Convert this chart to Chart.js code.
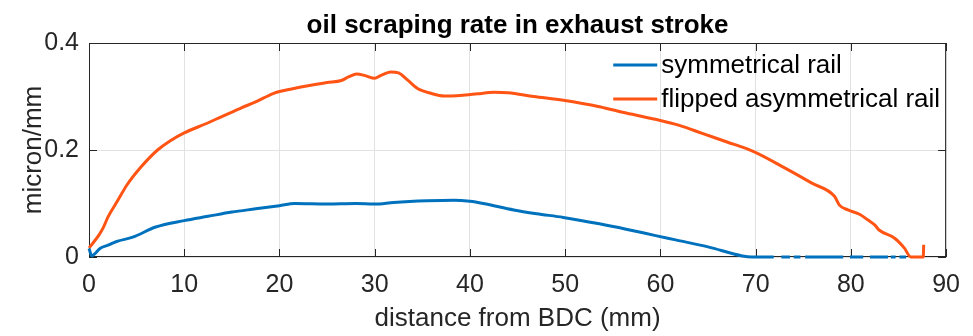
<!DOCTYPE html>
<html>
<head>
<meta charset="utf-8">
<script src="https://cdn.jsdelivr.net/npm/chart.js@4.4.1/dist/chart.umd.min.js"></script>
<style>
    html, body { margin: 0; padding: 0; background: #fff; }
</style>
</head>
<body>
<canvas id="ourChart" width="973" height="336"></canvas>
<script>
// values (x in mm, y in micron/mm)
const symX = [0, 0.3, 0.6, 1.15, 2, 2.9, 4.6, 7, 10, 12.5, 15, 17.5, 20, 21.6, 25, 28, 30, 32, 35.5, 38.3,
    40, 41.4, 44.6, 47, 49.8, 53.6, 56.4, 59.5, 61.6, 65, 68.6, 69.6, 71.9, 72.3, 72.7, 73.6, 73.8, 74.0, 74.7, 74.95,
    75.2, 79.2, 79.5, 79.9, 81.3, 81.6, 82.0, 83.9, 84.05, 84.2, 84.7, 84.9, 85.1, 85.8];
const symY = [0.016, 0.002, 0.006, 0.016, 0.022, 0.029, 0.037, 0.056, 0.068, 0.076, 0.084, 0.090, 0.096, 0.100, 0.099, 0.100, 0.099, 0.102, 0.105, 0.106,
    0.104, 0.100, 0.088, 0.081, 0.074, 0.062, 0.052, 0.040, 0.032, 0.019, 0.002, 0, 0, null, 0, 0, null, 0, 0, null,
    0, 0, null, 0, 0, null, 0, 0, null, 0, 0, null, 0, 0];

const flipX = [0, 0.5, 1, 1.5, 2, 3, 4, 5.5, 7.2, 8.5, 10, 12.4, 14, 15.9, 17.5, 19.4, 21, 23, 25, 26.5,
    27.3, 28.1, 29, 30, 30.6, 31.7, 32.5, 33.5, 34.5, 35.9, 37.3, 39, 40.8, 42.5, 44, 46.7, 49.8, 53.6, 56.4, 59.8,
    62, 64.4, 67, 69.8, 73.1, 75.9, 78.3, 78.8, 79.7, 81, 81.8, 82.5, 83, 84.6, 85.6, 86.3, 87.6, 87.65];
const flipY = [0.017, 0.028, 0.040, 0.055, 0.075, 0.105, 0.135, 0.169, 0.200, 0.217, 0.232, 0.250, 0.263, 0.278, 0.290, 0.306, 0.313, 0.320, 0.326, 0.330,
    0.337, 0.342, 0.339, 0.334, 0.339, 0.346, 0.344, 0.330, 0.315, 0.306, 0.301, 0.302, 0.305, 0.308, 0.307, 0.300, 0.293, 0.281, 0.269, 0.256,
    0.246, 0.231, 0.215, 0.197, 0.166, 0.138, 0.113, 0.097, 0.088, 0.079, 0.069, 0.060, 0.050, 0.035, 0.017, 0, 0, 0.023];

const seriesNames = ['symmetrical rail', 'flipped asymmetrical rail'];
const xTicks = [0, 10, 20, 30, 40, 50, 60, 70, 80, 90];
const yTicks = [0, 0.2, 0.4];
const yTickLabels = ['0', '0.2', '0.4'];

const titleText = 'oil scraping rate in exhaust stroke';
const fontFamily = '"Liberation Sans", Arial, Helvetica, sans-serif';
const axisColor = '#262626';

function toPoints(xs, ys) {
    return xs.map((x, i) => ({ x: x, y: ys[i] }));
}

// box round the axes + ticks pointing inwards, like matlab
const boxPlugin = {
    id: 'boxPlugin',
    beforeDatasetsDraw(chart) {
        const ctx = chart.ctx;
        const a = chart.chartArea;
        const xs = chart.scales.x, ys = chart.scales.y;
        const len = 8;
        ctx.save();
        ctx.strokeStyle = axisColor;
        ctx.lineWidth = 1;
        ctx.strokeRect(a.left + 0.5, a.top + 0.5, a.right - a.left - 1, a.bottom - a.top - 1);
        ctx.beginPath();
        xTicks.forEach(v => {
            const px = Math.round(xs.getPixelForValue(v)) + 0.5;
            ctx.moveTo(px, a.bottom); ctx.lineTo(px, a.bottom - len);
            ctx.moveTo(px, a.top); ctx.lineTo(px, a.top + len);
        });
        yTicks.forEach(v => {
            const py = Math.round(ys.getPixelForValue(v)) + 0.5;
            ctx.moveTo(a.left, py); ctx.lineTo(a.left + len, py);
            ctx.moveTo(a.right, py); ctx.lineTo(a.right - len, py);
        });
        ctx.stroke();
        ctx.restore();
    },
    afterDraw(chart) {
        const ctx = chart.ctx;
        const a = chart.chartArea;
        ctx.save();
        // title
        ctx.font = 'bold 26px ' + fontFamily;
        ctx.fillStyle = '#000';
        ctx.textAlign = 'center';
        ctx.textBaseline = 'alphabetic';
        ctx.fillText(titleText, (a.left + a.right) / 2, a.top - 10);

        // legend in the top right corner
        ctx.font = '26px ' + fontFamily;
        let w = 0;
        chart.data.datasets.forEach(d => { w = Math.max(w, ctx.measureText(d.label).width); });
        const textX = a.right - 6 - w;
        ctx.textAlign = 'left';
        ctx.textBaseline = 'middle';
        chart.data.datasets.forEach((d, i) => {
            const y = a.top + 22 + i * 34;
            ctx.strokeStyle = d.borderColor;
            ctx.lineWidth = d.borderWidth;
            ctx.beginPath();
            ctx.moveTo(textX - 48, y);
            ctx.lineTo(textX - 4, y);
            ctx.stroke();
            ctx.fillStyle = '#000';
            ctx.fillText(d.label, textX, y + 1);
        });
        ctx.restore();
    }
};

let ourCanvas = document.getElementById('ourChart');

const chartElement = new Chart(ourCanvas, {
    type: 'line',
    data: {
        datasets: [
            {
                label: seriesNames[0],
                data: toPoints(symX, symY),
                borderColor: '#0072BD',
                backgroundColor: '#0072BD',
                borderWidth: 3,
                pointRadius: 0,
                cubicInterpolationMode: 'monotone',
                spanGaps: false,
                clip: 4
            },
            {
                label: seriesNames[1],
                data: toPoints(flipX, flipY),
                borderColor: '#FF5414',
                backgroundColor: '#FF5414',
                borderWidth: 3,
                pointRadius: 0,
                cubicInterpolationMode: 'monotone',
                clip: 4
            }
        ]
    },
    options: {
        responsive: false,
        animation: false,
        layout: { padding: { top: 43, right: 25, left: 0, bottom: 0 } },
        plugins: {
            legend: { display: false },
            title: { display: false },
            tooltip: { enabled: false }
        },
        scales: {
            x: {
                type: 'linear',
                min: 0,
                max: 90,
                afterBuildTicks: s => { s.ticks = xTicks.map(v => ({ value: v })); },
                afterFit: s => { s.height = 79; },
                grid: { color: '#e2e2e2', drawTicks: false },
                border: { display: false },
                ticks: {
                    padding: 13,
                    maxRotation: 0,
                    color: axisColor,
                    font: { family: fontFamily, size: 25 }
                },
                title: {
                    display: true,
                    text: 'distance from BDC (mm)',
                    color: axisColor,
                    font: { family: fontFamily, size: 26 },
                    padding: { top: 0, bottom: 2 }
                }
            },
            y: {
                type: 'linear',
                min: 0,
                max: 0.4,
                afterBuildTicks: s => { s.ticks = yTicks.map(v => ({ value: v })); },
                afterFit: s => { s.width = 89; },
                grid: { color: '#e2e2e2', drawTicks: false },
                border: { display: false },
                ticks: {
                    padding: 10,
                    color: axisColor,
                    font: { family: fontFamily, size: 25 },
                    callback: (v, i) => yTickLabels[i]
                },
                title: {
                    display: true,
                    text: 'micron/mm',
                    color: axisColor,
                    font: { family: fontFamily, size: 26 },
                    padding: { top: 18, bottom: 0 }
                }
            }
        }
    },
    plugins: [boxPlugin]
});
</script>
</body>
</html>
